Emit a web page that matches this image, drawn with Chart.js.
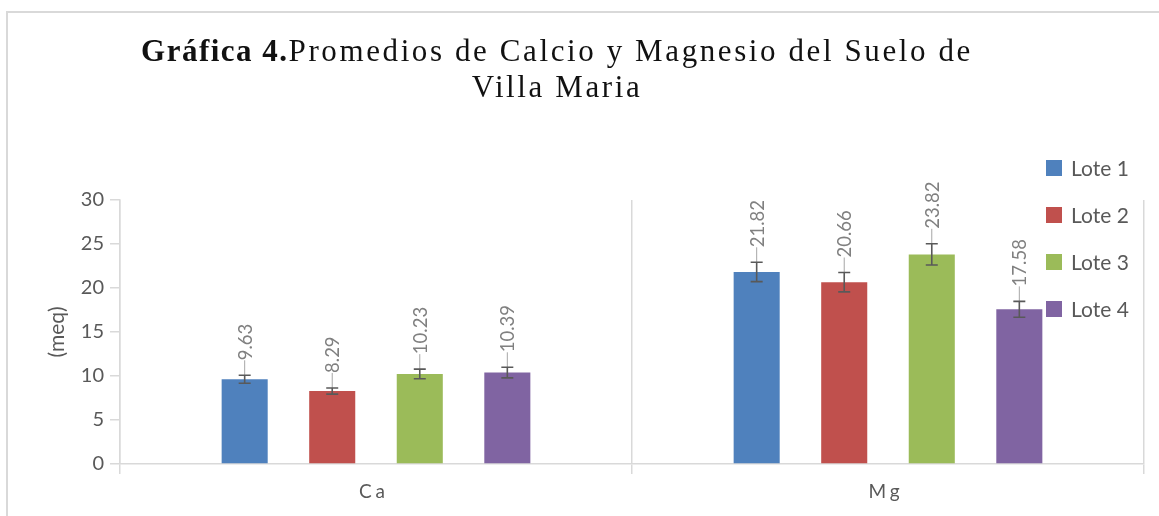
<!DOCTYPE html>
<html>
<head>
<meta charset="utf-8">
<script src="https://cdn.jsdelivr.net/npm/chart.js@4/dist/chart.umd.min.js"></script>
<style>
  html, body { margin: 0; padding: 0; background: #fff; }
  #wrap { position: relative; width: 1159px; height: 516px; overflow: hidden; }
  #title {
    position: absolute; left: 0; top: 33px; width: 1114px; text-align: center;
    font-family: "Liberation Serif", "DejaVu Serif", serif; font-size: 31px; line-height: 36px;
    letter-spacing: 2.6px; color: #111;
  }
  #title b { font-weight: bold; letter-spacing: 1.5px; }
  canvas { position: absolute; left: 0; top: 0; }
</style>
</head>
<body>
<div id="wrap">
  <canvas id="c" width="1159" height="516"></canvas>
  <div id="title"><b>Gráfica 4.</b>Promedios de Calcio y Magnesio del Suelo de<br>Villa Maria</div>
</div>
<script>
// ---- data ----
const categories = ['Ca', 'Mg'];
const seriesNames = ['Lote 1', 'Lote 2', 'Lote 3', 'Lote 4'];
const lote1 = [9.63, 21.82];
const lote2 = [8.29, 20.66];
const lote3 = [10.23, 23.82];
const lote4 = [10.39, 17.58];
const err1 = [0.45, 1.1];
const err2 = [0.35, 1.1];
const err3 = [0.55, 1.2];
const err4 = [0.6, 0.9];
const yTicks = [0, 5, 10, 15, 20, 25, 30];
const yTitle = '(meq)';

const colors = ['#4f81bd', '#c0504d', '#9bbb59', '#8064a2'];
const values = [lote1, lote2, lote3, lote4];
const errors = [err1, err2, err3, err4];

const FONT = 'Lato, "Open Sans", "Liberation Sans", sans-serif';
const TXT = '#595959';
const GRID = '#d9d9d9';

const framePlugin = {
  id: 'frame',
  beforeDraw(chart) {
    const ctx = chart.ctx;
    ctx.save();
    ctx.fillStyle = '#fff';
    ctx.fillRect(0, 0, chart.width, chart.height);
    ctx.strokeStyle = GRID;
    ctx.lineWidth = 2;
    ctx.strokeRect(7, 12, chart.width + 20, chart.height + 20);
    ctx.restore();
  }
};

const errorPlugin = {
  id: 'errorbars',
  afterDatasetsDraw(chart) {
    const ctx = chart.ctx;
    const y = chart.scales.y;
    ctx.save();
    chart.data.datasets.forEach((ds, di) => {
      const meta = chart.getDatasetMeta(di);
      meta.data.forEach((bar, i) => {
        const v = ds.data[i];
        const e = errors[di][i];
        const x = bar.x;
        const yt = y.getPixelForValue(v + e);
        const yb = y.getPixelForValue(v - e);
        const labelBottom = yt - 15;
        // leader line
        ctx.strokeStyle = '#a6a6a6';
        ctx.lineWidth = 1;
        ctx.beginPath();
        ctx.moveTo(x, yt);
        ctx.lineTo(x, labelBottom);
        ctx.stroke();
        // error bar
        ctx.strokeStyle = '#595959';
        ctx.lineWidth = 1.6;
        ctx.beginPath();
        ctx.moveTo(x, yt); ctx.lineTo(x, yb);
        ctx.moveTo(x - 6, yt); ctx.lineTo(x + 6, yt);
        ctx.moveTo(x - 6, yb); ctx.lineTo(x + 6, yb);
        ctx.stroke();
        // rotated value label
        ctx.save();
        ctx.translate(x, labelBottom);
        ctx.rotate(-Math.PI / 2);
        ctx.fillStyle = '#808080';
        ctx.font = '18.5px ' + FONT;
        ctx.textAlign = 'left';
        ctx.textBaseline = 'middle';
        ctx.fillText(v.toFixed(2), 0, 1);
        ctx.restore();
      });
    });
    ctx.restore();
  }
};

const legendPlugin = {
  id: 'customLegend',
  afterDraw(chart) {
    const ctx = chart.ctx;
    ctx.save();
    ctx.font = '21px ' + FONT;
    ctx.textBaseline = 'middle';
    ctx.textAlign = 'left';
    chart.data.datasets.forEach((ds, i) => {
      const cy = 168 + i * 47;
      ctx.fillStyle = ds.backgroundColor;
      ctx.fillRect(1046, cy - 8, 16, 16);
      ctx.fillStyle = TXT;
      ctx.fillText(ds.label, 1071, cy + 1);
    });
    // category labels (letter-spaced, like the reference)
    const xs = chart.scales.x;
    ctx.font = '19px ' + FONT;
    ctx.letterSpacing = '4px';
    ctx.textAlign = 'center';
    ctx.fillStyle = TXT;
    chart.data.labels.forEach((lab, i) => {
      ctx.fillText(lab, xs.getPixelForValue(i) - 2, 492);
    });
    ctx.restore();
  }
};

new Chart(document.getElementById('c'), {
  type: 'bar',
  data: {
    labels: categories,
    datasets: seriesNames.map((n, i) => ({
      label: n,
      data: values[i],
      backgroundColor: colors[i],
      borderWidth: 0,
      categoryPercentage: 0.684,
      barPercentage: 0.526
    }))
  },
  options: {
    responsive: false,
    animation: false,
    events: [],
    layout: { padding: { top: 200, right: 15, left: 0, bottom: 0 } },
    plugins: {
      legend: { display: false },
      tooltip: { enabled: false },
      title: { display: false }
    },
    scales: {
      x: {
        grid: { offset: true, color: GRID, lineWidth: 1.5, tickLength: 10, drawOnChartArea: true },
        border: { display: true, color: GRID, width: 1.5 },
        ticks: { display: false },
        afterFit(s) { s.height = 52; }
      },
      y: {
        min: 0, max: 30,
        afterBuildTicks(s) { s.ticks = yTicks.map(v => ({ value: v })); },
        grid: { drawOnChartArea: false, drawTicks: true, tickLength: 10, color: GRID, lineWidth: 1.5 },
        border: { display: true, color: GRID, width: 1.5 },
        ticks: { color: TXT, font: { family: FONT, size: 20 }, padding: 6 },
        title: { display: true, text: yTitle, color: TXT, font: { family: FONT, size: 21 }, padding: { top: 45, bottom: 0 } },
        afterFit(s) { s.width = 120; }
      }
    }
  },
  plugins: [framePlugin, errorPlugin, legendPlugin]
});
</script>
</body>
</html>
